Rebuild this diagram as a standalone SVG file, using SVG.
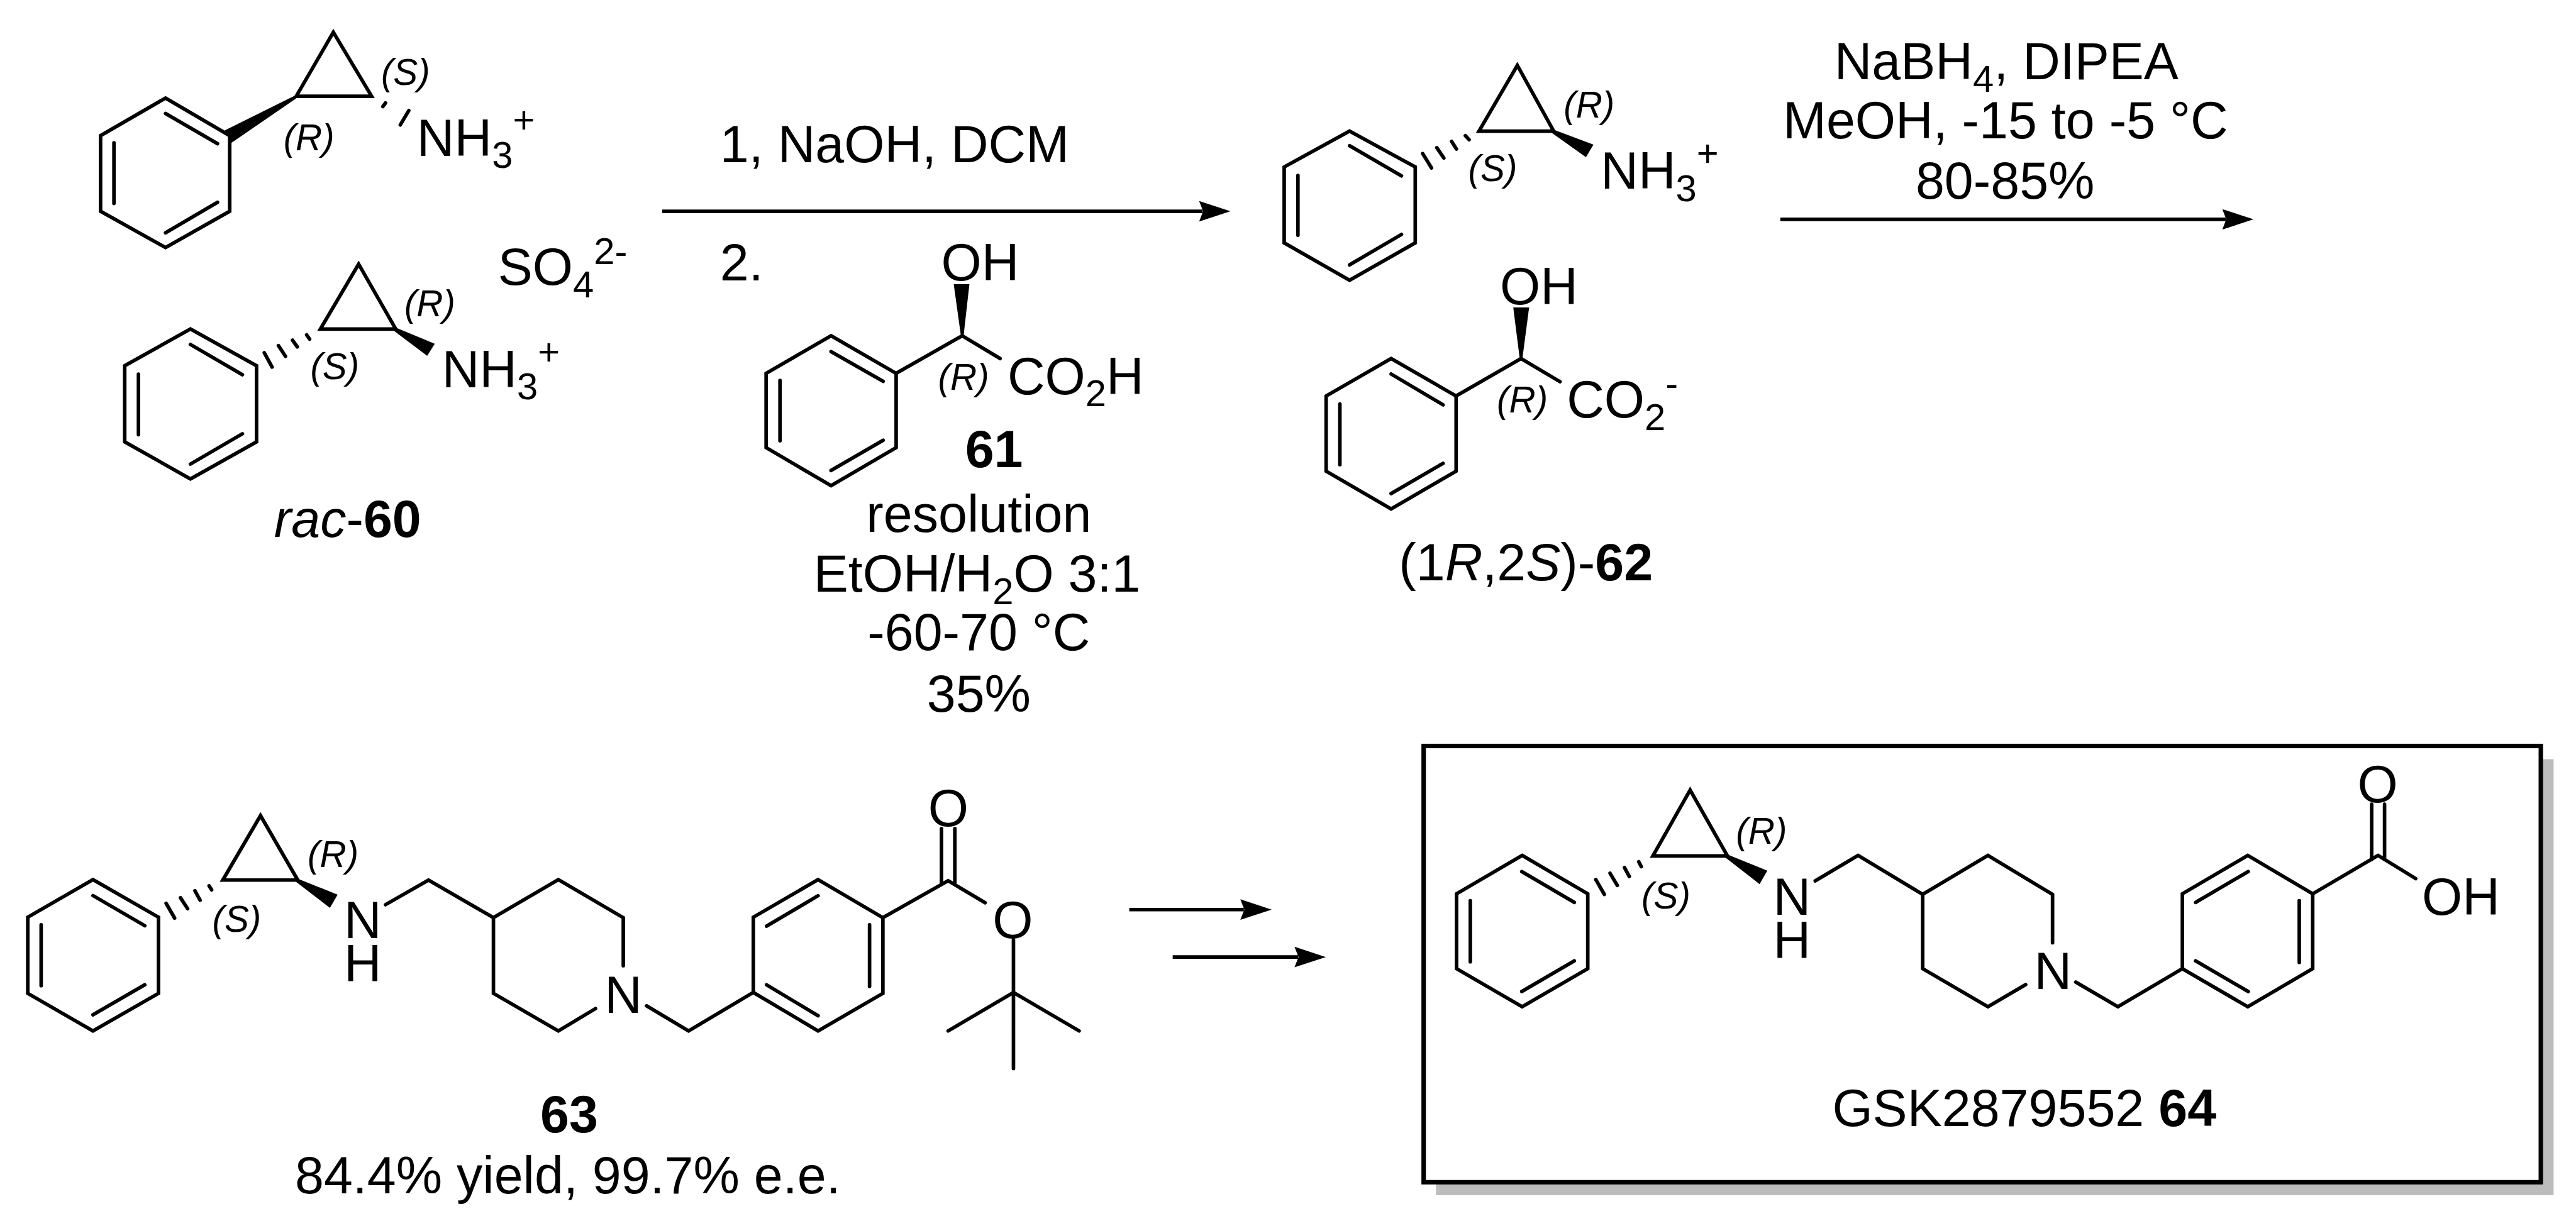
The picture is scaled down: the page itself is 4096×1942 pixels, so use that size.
<svg xmlns="http://www.w3.org/2000/svg" width="4096" height="1942" viewBox="0 0 4096 1942">
<style>
text{font-family:"Liberation Sans",Arial,sans-serif;font-size:116px;fill:#000}
.c{text-anchor:middle}
.b{font-weight:bold}
.i{font-style:italic}
.st{font-size:82px;font-style:italic}
.s{font-size:84px}
path.k{fill:none;stroke:#000;stroke-width:8;stroke-linejoin:miter;stroke-linecap:round;stroke-miterlimit:8}
path.w{fill:#000;stroke:none}
.arrow{fill:none;stroke:#000;stroke-width:8}
</style>
<defs>
<marker id="head" markerUnits="userSpaceOnUse" markerWidth="80" markerHeight="52" refX="8" refY="26" orient="auto" viewBox="0 0 80 52"><path d="M0,3 L70,26 L0,49 L9,26Z" fill="#000"/></marker>
</defs>
<rect width="4096" height="1942" fill="#fff"/>
<g transform="scale(0.71197)">
<g id="connectors">
<path class="arrow" marker-end="url(#head)" d="M1479,472H2686"/>
<path class="arrow" marker-end="url(#head)" d="M3976,490H4971"/>
<path class="arrow" marker-end="url(#head)" d="M2522,2032H2778"/>
<path class="arrow" marker-end="url(#head)" d="M2619,2138H2899"/>
</g>

<g id="rac-60-top">
<path class="k" d="M744.5,72L661.6,215H830ZM369.7,219L513,303V472L369.7,553L224.6,472V303ZM369.7,253.6L485.8,321M254.5,319V454.5M369.7,520L485.8,452"/>
<path class="w" d="M661.6,212L502.4,291L517.3,319L664,218Z"/>
<path class="k" d="M861,230L855,238M913,247L894,279"/>
<text class="st" x="851" y="189">(S)</text>
<text class="st" x="633" y="335">(R)</text>
<text x="931" y="348">NH<tspan class="s" dy="27">3</tspan><tspan class="s" dy="-78">+</tspan></text>
</g>

<g id="rac-60-bottom">
<path class="k" d="M801,590L715.5,735H883.8ZM425.3,735L573,817V987L425.3,1070L278.5,987V817ZM425.3,769.5L541.4,837M309.2,835.7V971M425.3,1036.7L541.4,969"/>
<path class="k" d="M590.3,788L607.7,820M621.8,772L637.6,796M653.3,760L664,775M684.8,748L691.5,757.6"/>
<path class="w" d="M882,731L971,768L954,795L880,739Z"/>
<text class="st" x="903" y="706">(R)</text>
<text class="st" x="693" y="847">(S)</text>
<text x="987" y="865">NH<tspan class="s" dy="27">3</tspan><tspan class="s" dy="-78">+</tspan></text>
<text x="1112" y="636">SO<tspan class="s" dy="28">4</tspan><tspan class="s" dy="-74">2-</tspan></text>
<text x="612" y="1200"><tspan class="i">rac</tspan>-<tspan class="b">60</tspan></text>
</g>

<g id="reagents-1">
<text x="1608" y="362">1, NaOH, DCM</text>
<text x="1608" y="627">2.</text>
<text class="c"><tspan x="2186" y="1188">resolution</tspan><tspan x="2182" y="1322">EtOH/H<tspan class="s" dy="28">2</tspan><tspan dy="-28">O 3:1</tspan></tspan><tspan x="2186" y="1453">-60-70 °C</tspan><tspan x="2186" y="1590">35%</tspan></text>
</g>

<g id="compound-61">
<path class="k" d="M1856,750L2001.4,834V1000L1856,1085L1711,1000V834ZM1856,785.6L1972.4,852M1742,850V984.5M1856,1051L1972.4,983.5M2001.4,834L2149,750L2233.6,801"/>
<path class="w" d="M2130,635H2165L2152,750H2146Z"/>
<text x="2102" y="627">OH</text>
<text class="st" x="2095" y="871">(R)</text>
<text x="2250" y="880">CO<tspan class="s" dy="28">2</tspan><tspan dy="-28">H</tspan></text>
<text class="c b" x="2220" y="1044">61</text>
</g>

<g id="compound-62-amine">
<path class="k" d="M3388.7,146L3303,293H3470ZM3014,293L3160.7,373V542.6L3014,626L2868,542.6V373ZM3014,325.6L3130,392.8M2898.7,392V525.4M3014,591.7L3130,523.7"/>
<path class="k" d="M3272.6,303L3281,312M3242,316L3252.7,333M3208.8,330L3224.6,353M3177.3,343L3197,375"/>
<path class="w" d="M3468,289L3558.7,323L3542,351L3466,297Z"/>
<text class="st" x="3492" y="263">(R)</text>
<text class="st" x="3279" y="405">(S)</text>
<text x="3575" y="422">NH<tspan class="s" dy="27">3</tspan><tspan class="s" dy="-78">+</tspan></text>
</g>

<g id="compound-62-mandelate">
<path class="k" d="M3106.8,801L3252,884.6V1052.5L3106.8,1137L2961.7,1052.5V884.6ZM3106.8,835.5L3222.9,904.4M2992.4,902.7V1038M3106.8,1102.5L3222.9,1035M3252,884.6L3397,801L3484,852.7"/>
<path class="w" d="M3379.6,687H3415L3400,801H3394Z"/>
<text x="3350" y="680">OH</text>
<text class="st" x="3343" y="922">(R)</text>
<text x="3499" y="933">CO<tspan class="s" dy="28">2</tspan><tspan class="s" dy="-76">-</tspan></text>
<text x="3124" y="1296">(1<tspan class="i">R</tspan>,2<tspan class="i">S</tspan>)-<tspan class="b">62</tspan></text>
</g>

<g id="reagents-2">
<text class="c"><tspan x="4481" y="177">NaBH<tspan class="s" dy="28">4</tspan><tspan dy="-28">, DIPEA</tspan></tspan><tspan x="4479" y="309">MeOH, -15 to -5 °C</tspan><tspan x="4478" y="444">80-85%</tspan></text>
</g>

<g id="compound-63">
<path class="k" d="M581.8,1822L497.6,1966H665ZM207.6,1965L354,2049V2219L207.6,2303L62,2219V2049ZM207.6,2000.6L323.4,2068M91.9,2066V2202M207.6,2267L323.4,2200"/>
<path class="k" d="M467,1979L472.7,1988M435.4,1990L447,2011M403,2005.5L419,2030M371,2018L390,2051"/>
<path class="w" d="M663,1962L754,1998.6L736.8,2028L661,1970Z"/>
<path class="k" d="M861,2021L957,1966L1102,2050L1247,1965L1392,2050V2157.4M1330,2253L1247,2303L1102,2219V2050M1444,2247L1537.8,2303L1682.4,2217V2049L1827,1965L1971.8,2050V2219L1827,2303L1682.4,2217M1712,2069L1827,2001M1942,2066V2203.5M1712,2200L1827,2269M1971.8,2050L2117.6,1967.6L2200,2016.5M2102.6,1851V1973M2132.5,1851V1973M2263.4,2100V2387M2117.6,2303L2263.4,2217L2410,2303"/>
<text class="st" x="687" y="1937">(R)</text>
<text class="st" x="474" y="2082">(S)</text>
<text class="c"><tspan x="810" y="2095">N</tspan><tspan x="810" y="2192">H</tspan></text>
<text class="c" x="1392" y="2263">N</text>
<text class="c" x="2118" y="1845">O</text>
<text class="c" x="2262" y="2095">O</text>
<text class="c"><tspan class="b" x="1271" y="2529">63</tspan><tspan x="1268" y="2666">84.4% yield, 99.7% e.e.</tspan></text>
</g>

<g id="compound-64">
<rect x="3207" y="1696" width="2496" height="974" fill="#bcbcbc"/>
<rect x="3179.5" y="1666.5" width="2495" height="974.5" fill="#fff" stroke="#000" stroke-width="10"/>
<path class="k" d="M3774.6,1765L3691.4,1912H3858ZM3399.5,1911L3546,1996.7V2164L3399.5,2249L3253,2164V1996.7ZM3398.6,1947L3516,2015.8M3283.7,2012V2148.6M3398.6,2215L3516,2146.5"/>
<path class="k" d="M3659.8,1925L3665.5,1936M3628,1938L3638.8,1958M3595.7,1950.7L3612,1978M3564,1965L3583,1998"/>
<path class="w" d="M3856,1908L3947,1945L3929.7,1975L3854,1916Z"/>
<path class="k" d="M4054,1967.7L4149.7,1911L4294,1998L4439.7,1911L4584,1998V2106M4524,2199.5L4439.7,2249L4294,2164V1998M4635.8,2194L4730,2249L4874,2164V1996.7L5020,1911L5165,1996.7V2164L5020,2249L4874,2164M4903.5,2015.8L5021,1947M5135,2012V2150M4903.5,2146.5L5021,2215M5165,1996.7L5311,1911L5395,1962.7M5296.7,1796.7V1920M5325.5,1796.7V1920"/>
<text class="st" x="3877" y="1885">(R)</text>
<text class="st" x="3666" y="2030">(S)</text>
<text class="c"><tspan x="4002" y="2044">N</tspan><tspan x="4002" y="2141">H</tspan></text>
<text class="c" x="4585" y="2210">N</text>
<text class="c" x="5310" y="1792">O</text>
<text x="5409" y="2044">OH</text>
<text x="4092" y="2516">GSK2879552 <tspan class="b">64</tspan></text>
</g>
</g>
</svg>
